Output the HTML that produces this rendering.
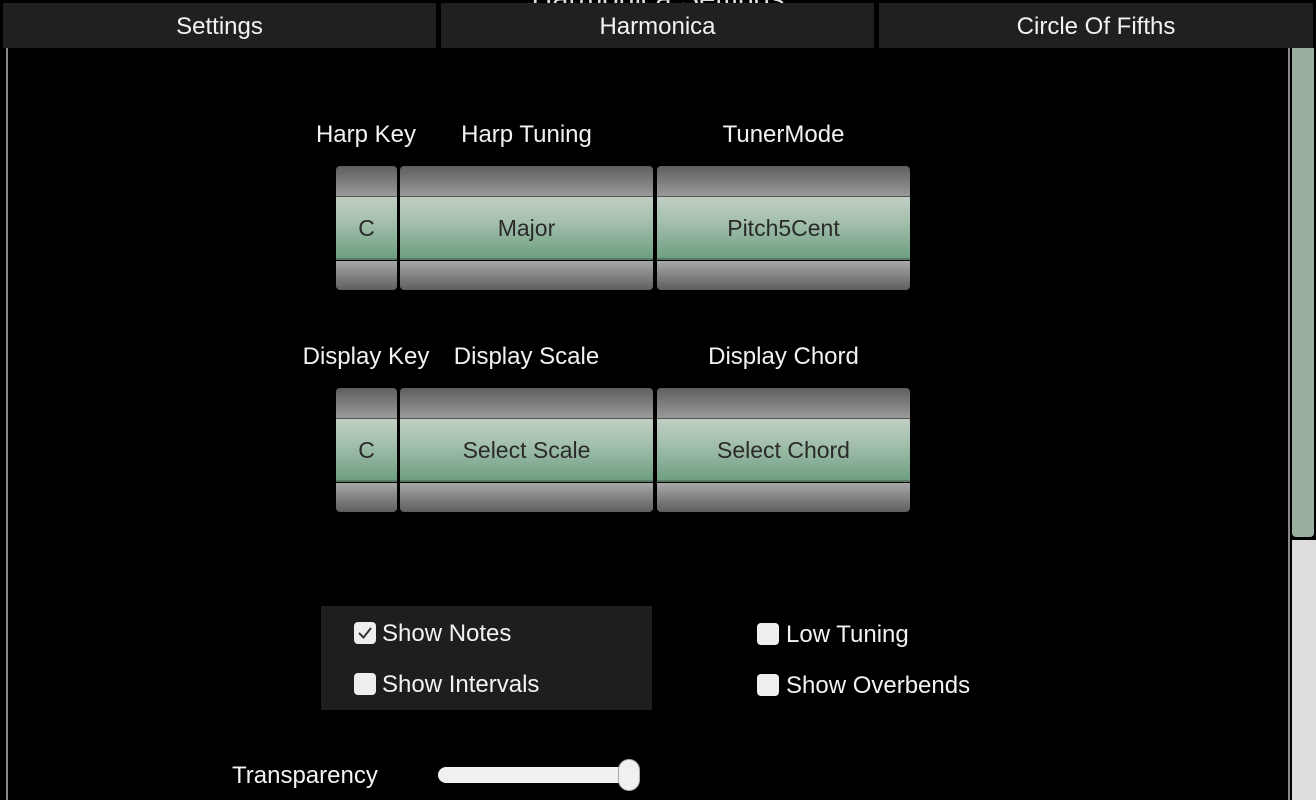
<!DOCTYPE html>
<html><head><style>
*{margin:0;padding:0;box-sizing:border-box}
body{width:1316px;height:800px;background:#000;position:relative;overflow:hidden;font-family:"Liberation Sans",sans-serif;color:#fff}
.a{position:absolute}
.tab{position:absolute;top:3px;height:45px;background:#202020;font-size:24px;text-align:center;line-height:48px;color:#f2f2f2}
.lbl{position:absolute;font-size:24px;text-align:center;color:#f2f2f2}
.pk{position:absolute;border-radius:4px;overflow:hidden;background:#000}
.pk .t{position:absolute;left:0;right:0;top:0;height:31px;background:linear-gradient(#5e5e5e,#9a9a9a);border-bottom:1px solid #555}
.pk .m{position:absolute;left:0;right:0;top:31px;height:63px;background:linear-gradient(#c0cec3,#a4c0ad 40%,#6e9f81);border-bottom:2px solid #5a7a66;color:#2a2a2a;font-size:23px;text-align:center;line-height:63px}
.pk .b{position:absolute;left:0;right:0;top:95px;bottom:0;background:linear-gradient(#a8a8a8,#5e5e5e)}
.cb{position:absolute;width:22px;height:22px;background:#eee;border-radius:4px}
.ct{position:absolute;font-size:24px;color:#f2f2f2}
</style></head><body>
<div class="a" style="left:0;top:-17px;width:1316px;text-align:center;font-size:29px;color:#ddd;">Harmonica Settings</div>
<div class="tab" style="left:3px;width:433px">Settings</div>
<div class="tab" style="left:441px;width:433px">Harmonica</div>
<div class="tab" style="left:879px;width:434px">Circle Of Fifths</div>
<div class="a" style="left:6px;top:48px;width:2px;height:752px;background:#888"></div>
<div class="a" style="left:1288px;top:48px;width:2px;height:752px;background:#888"></div>
<div class="a" style="left:1292px;top:48px;width:22px;height:489px;background:#9aafa0;border-radius:0 0 4px 4px"></div>
<div class="a" style="left:1292px;top:540px;width:24px;height:260px;background:#ddd"></div>

<div class="lbl" style="left:306px;width:120px;top:121px">Harp Key</div>
<div class="lbl" style="left:400px;width:253px;top:121px">Harp Tuning</div>
<div class="lbl" style="left:657px;width:253px;top:121px">TunerMode</div>
<div class="pk" style="left:336px;top:166px;width:61px;height:124px"><div class="t"></div><div class="m">C</div><div class="b"></div></div>
<div class="pk" style="left:400px;top:166px;width:253px;height:124px"><div class="t"></div><div class="m">Major</div><div class="b"></div></div>
<div class="pk" style="left:657px;top:166px;width:253px;height:124px"><div class="t"></div><div class="m">Pitch5Cent</div><div class="b"></div></div>

<div class="lbl" style="left:296px;width:140px;top:343px">Display Key</div>
<div class="lbl" style="left:400px;width:253px;top:343px">Display Scale</div>
<div class="lbl" style="left:657px;width:253px;top:343px">Display Chord</div>
<div class="pk" style="left:336px;top:388px;width:61px;height:124px"><div class="t"></div><div class="m">C</div><div class="b"></div></div>
<div class="pk" style="left:400px;top:388px;width:253px;height:124px"><div class="t"></div><div class="m">Select Scale</div><div class="b"></div></div>
<div class="pk" style="left:657px;top:388px;width:253px;height:124px"><div class="t"></div><div class="m">Select Chord</div><div class="b"></div></div>

<div class="a" style="left:321px;top:606px;width:331px;height:104px;background:#1e1e1e"></div>
<div class="cb" style="left:354px;top:622px"><svg width="22" height="22"><path d="M5 11 L9.5 15.5 L17 6" stroke="#333" stroke-width="2" fill="none"/></svg></div>
<div class="ct" style="left:382px;top:620px">Show Notes</div>
<div class="cb" style="left:354px;top:673px"></div>
<div class="ct" style="left:382px;top:671px">Show Intervals</div>
<div class="cb" style="left:757px;top:623px"></div>
<div class="ct" style="left:786px;top:621px">Low Tuning</div>
<div class="cb" style="left:757px;top:674px"></div>
<div class="ct" style="left:786px;top:672px">Show Overbends</div>

<div class="ct" style="left:232px;top:762px">Transparency</div>
<div class="a" style="left:438px;top:767px;width:190px;height:16px;background:#f0f0f0;border-radius:8px"></div>
<div class="a" style="left:618px;top:759px;width:22px;height:32px;background:#f0f0f0;border-radius:11px;border:1px solid #aaa"></div>
</body></html>
